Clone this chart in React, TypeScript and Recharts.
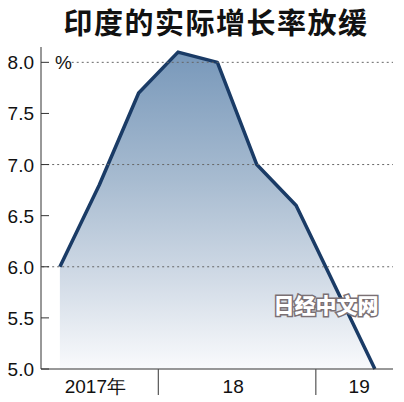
import React from 'react';
import { AreaChart, Area, XAxis, YAxis, ReferenceLine } from 'recharts';

// quarterly real GDP growth, %
const quarters = ['2017Q2', '2017Q3', '2017Q4', '2018Q1', '2018Q2', '2018Q3', '2018Q4', '2019Q1', '2019Q2'];
const growth = [6.0, 6.8, 7.7, 8.1, 8.0, 7.0, 6.6, 5.8, 5.0];

const yTicks = [5.0, 5.5, 6.0, 6.5, 7.0, 7.5, 8.0];
const gridValues = [6.0, 7.0, 8.0];

// year labels sit at fractional quarter positions, separators between years
const yearLabels = [
  { at: 0.9, text: '2017年' },
  { at: 4.4, text: '18' },
  { at: 7.6, text: '19' },
];
const yearBreaks = [2.5, 6.5];

const data = quarters.map((q, i) => ({ q, idx: i, value: growth[i] }));

const FONT = '"Liberation Sans Narrow", "Liberation Sans", Arial, sans-serif';

const YTick = (props: any) => {
  const { x, y, payload } = props;
  return (
    <g>
      <line x1={x} x2={x + 8} y1={y} y2={y} stroke="#333" strokeWidth={1} />
      <text x={x - 7} y={y + 7} textAnchor="end" fontSize={19} fontFamily={FONT} fill="#111">
        {payload.value.toFixed(1)}
      </text>
      {payload.value === 8 && (
        <text x={x + 14} y={y + 7} fontSize={19} fontFamily={FONT} fill="#111">
          %
        </text>
      )}
    </g>
  );
};

const XTick = (props: any) => {
  const { x, y, payload } = props;
  if (yearBreaks.includes(payload.value)) {
    return <line x1={x} x2={x} y1={y} y2={y + 26} stroke="#555" strokeWidth={1.2} />;
  }
  const label = yearLabels.find((l) => l.at === payload.value);
  return (
    <text x={x} y={y + 24} textAnchor="middle" fontSize={19} fontFamily={FONT} fill="#111">
      {label ? label.text : ''}
    </text>
  );
};

const App = () => {
  return (
    <div style={{ position: 'absolute', left: 0, top: 0, width: 404, height: 402, background: '#fff' }}>
      <div
        style={{
          height: 44,
          paddingLeft: 28,
          textAlign: 'center',
          fontFamily: '"Noto Sans CJK SC", sans-serif',
          fontWeight: 700,
          fontSize: 29,
          lineHeight: 'normal',
          letterSpacing: 1.5,
          color: '#111',
        }}
      >
        印度的实际增长率放缓
      </div>
      <AreaChart width={404} height={358} data={data} margin={{ top: 3, right: 11, bottom: 0, left: 0 }}>
        <defs>
          <linearGradient id="fillGrad" x1="0" y1="0" x2="0" y2="1">
            <stop offset="0%" stopColor="#7898ba" />
            <stop offset="40%" stopColor="#a7bbd0" />
            <stop offset="70%" stopColor="#cfd9e5" />
            <stop offset="100%" stopColor="#f9fafc" />
          </linearGradient>
        </defs>
        <XAxis
          dataKey="idx"
          type="number"
          domain={[-0.48, 8.46]}
          allowDataOverflow
          ticks={[...yearLabels.map((l) => l.at), ...yearBreaks].sort((a, b) => a - b)}
          interval={0}
          tickSize={0}
          tickMargin={0}
          tickLine={false}
          tick={<XTick />}
          axisLine={{ stroke: '#333', strokeWidth: 1 }}
          height={33}
        />
        <YAxis
          type="number"
          domain={[5, 8.15]}
          ticks={yTicks}
          interval={0}
          tickSize={0}
          tickMargin={0}
          tickLine={false}
          tick={<YTick />}
          axisLine={{ stroke: '#333', strokeWidth: 1 }}
          width={41}
        />
        {gridValues.map((v) => (
          <ReferenceLine
            key={v}
            segment={[
              { x: v === 8 ? 0.3 : -0.45, y: v },
              { x: 8.46, y: v },
            ]}
            stroke="#666"
            strokeWidth={1}
            strokeDasharray="2 3"
          />
        ))}
        <Area
          type="linear"
          dataKey="value"
          stroke="#1a3b66"
          strokeWidth={3.5}
          strokeLinejoin="round"
          fill="url(#fillGrad)"
          fillOpacity={1}
          dot={false}
          activeDot={false}
          isAnimationActive={false}
        />
      </AreaChart>
      <div
        style={{
          position: 'absolute',
          left: 268,
          top: 289,
          width: 116,
          textAlign: 'center',
          fontFamily: '"Noto Sans CJK SC", sans-serif',
          fontWeight: 900,
          fontSize: 21,
          lineHeight: '30px',
          color: '#fff',
          WebkitTextStroke: '3px #7a7074',
          paintOrder: 'stroke fill',
          letterSpacing: 0,
        }}
      >
        日经中文网
      </div>
    </div>
  );
};

export default App;
